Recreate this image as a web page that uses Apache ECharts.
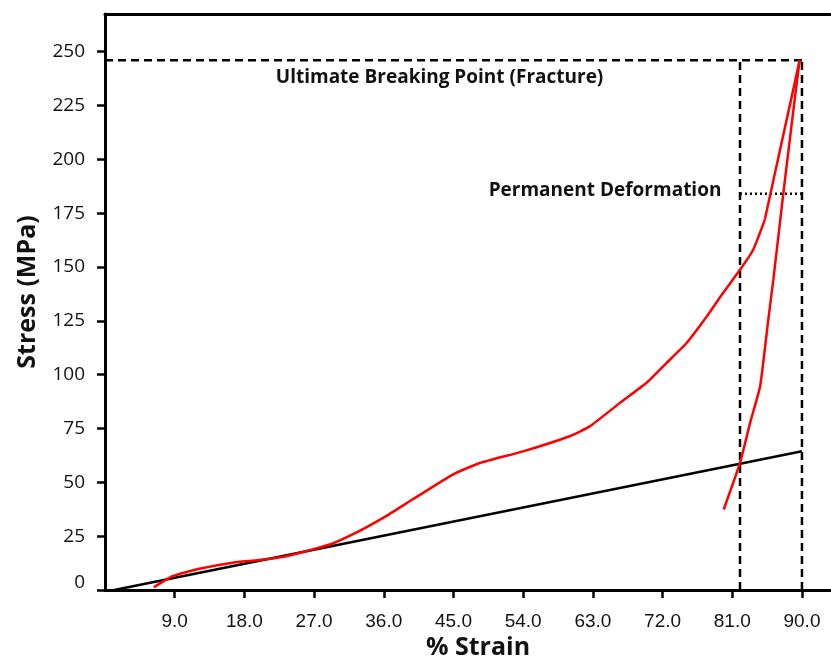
<!DOCTYPE html>
<html>
<head>
<meta charset="utf-8">
<script src="https://cdn.jsdelivr.net/npm/echarts@6/dist/echarts.min.js"></script>
<style>
  html, body { margin: 0; padding: 0; background: #fff; }
  #chart { width: 831px; height: 658px; }
</style>
</head>
<body>
<div id="chart"></div>
<script>
// Axis ticks
const strainTicks = [9, 18, 27, 36, 45, 54, 63, 72, 81, 90];
const stressTicks = [0, 25, 50, 75, 100, 125, 150, 175, 200, 225, 250];

// Loading branch of the stress–strain curve (% strain, MPa)
const loadStrain = [6.3, 8.7, 12.2, 16.5, 19.9, 23.4, 26.8, 29.4, 32.8, 36.3, 39.7, 44.9, 48.4,
  54.0, 60.0, 62.6, 66.5, 69.9, 72.5, 75.1, 77.7, 79.8, 82.0, 83.7, 85.2, 89.7];
const loadStress = [1.3, 6.4, 9.9, 12.7, 13.9, 15.7, 18.8, 21.6, 27.3, 34.3, 42.0, 53.6, 59.0,
  64.4, 71.4, 76.0, 86.9, 96.1, 105.4, 114.7, 127.0, 137.9, 148.7, 158.0, 171.9, 246];
// index where the curve turns into a straight run up to fracture
const kinkIndex = 24;

// Unloading branch after fracture
const unloadStrain = [89.7, 89.1, 87.6, 86.3, 85.6, 84.6, 83.3, 82.0, 79.9];
const unloadStress = [246, 229, 184.3, 144, 124, 94.6, 77.6, 59, 37.4];

// Straight reference (elastic) line
const elasticStrain = [1.2, 90];
const elasticStress = [0, 64.4];

// Reference levels
const fractureStress = 246;
const fractureStrain = 90;
const yieldStrain = 82;
const deformationStress = 184;

const zip = (xs, ys) => xs.map((x, i) => [x, ys[i]]);
const loadPts = zip(loadStrain, loadStress);

const chart = echarts.init(document.getElementById('chart'));

const dashStyle = { color: '#000', width: 2.5, type: [8, 5] };
const red = { color: '#ff0000', width: 2.5 };

chart.setOption({
  animation: false,
  backgroundColor: '#fff',
  grid: { left: 105, right: 0, top: 14, bottom: 68, outerBoundsMode: 'none' },
  xAxis: [{
    type: 'value', min: 0, max: 93.75,
    axisLine: { show: true, onZero: false, lineStyle: { color: '#000', width: 3 } },
    axisTick: { show: true, length: 8, lineStyle: { color: '#000', width: 2.5 }, customValues: strainTicks },
    axisLabel: {
      margin: 22, customValues: strainTicks, formatter: v => v.toFixed(1),
      fontFamily: 'Liberation Sans', fontSize: 19, color: '#111'
    },
    splitLine: { show: false }
  }, {
    type: 'value', min: 0, max: 93.75, position: 'top',
    axisLine: { show: true, onZero: false, lineStyle: { color: '#000', width: 3 } },
    axisTick: { show: false }, axisLabel: { show: false }, splitLine: { show: false }
  }],
  yAxis: {
    type: 'value', min: 0, max: 267.5,
    axisLine: { show: true, onZero: false, lineStyle: { color: '#000', width: 3 } },
    axisTick: { show: true, length: 8, lineStyle: { color: '#000', width: 2.5 }, customValues: stressTicks },
    axisLabel: {
      margin: 20, customValues: stressTicks,
      fontFamily: 'Open Sans', fontSize: 19, color: '#111',
      // the zero label sits slightly above the x axis line
      formatter: v => v === 0 ? '{z|0}' : String(v),
      rich: { z: { fontFamily: 'Open Sans', fontSize: 19, color: '#111', padding: [0, 0, 14, 0] } }
    },
    splitLine: { show: false }
  },
  series: [
    {
      type: 'line', name: 'fracture level', symbol: 'none', silent: true,
      data: [[0, fractureStress], [fractureStrain, fractureStress]],
      lineStyle: dashStyle
    },
    {
      type: 'line', name: 'yield strain', symbol: 'none', silent: true,
      data: [[yieldStrain, 0], [yieldStrain, fractureStress]],
      lineStyle: dashStyle
    },
    {
      type: 'line', name: 'fracture strain', symbol: 'none', silent: true,
      data: [[fractureStrain, 0], [fractureStrain, fractureStress + 1]],
      lineStyle: dashStyle
    },
    {
      type: 'line', name: 'deformation', symbol: 'none', silent: true,
      data: [[yieldStrain, deformationStress], [fractureStrain, deformationStress]],
      lineStyle: { color: '#000', width: 2.5, type: [2, 3] }
    },
    {
      type: 'line', name: 'elastic', symbol: 'none', silent: true,
      data: zip(elasticStrain, elasticStress),
      lineStyle: { color: '#000', width: 2.5 }
    },
    {
      type: 'line', name: 'loading', symbol: 'none', smooth: 0.15,
      data: loadPts.slice(0, kinkIndex + 1),
      lineStyle: red
    },
    {
      type: 'line', name: 'loading to fracture', symbol: 'none',
      data: loadPts.slice(kinkIndex),
      lineStyle: red
    },
    {
      type: 'line', name: 'unloading', symbol: 'none', smooth: 0.15,
      data: zip(unloadStrain, unloadStress),
      lineStyle: red
    }
  ]
});

// Annotations anchored to data coordinates
const ultPos = chart.convertToPixel({ gridIndex: 0 }, [43.2, 237.8]);
const defPos = chart.convertToPixel({ gridIndex: 0 }, [79.6, 185.5]);

chart.setOption({
  graphic: [
    {
      type: 'text', x: ultPos[0], y: ultPos[1],
      style: { text: 'Ultimate Breaking Point (Fracture)', font: 'bold 19px "Open Sans"', fill: '#111',
        textAlign: 'center', textVerticalAlign: 'middle' }
    },
    {
      type: 'text', x: defPos[0], y: defPos[1],
      style: { text: 'Permanent Deformation', font: 'bold 19px "Open Sans"', fill: '#111',
        textAlign: 'right', textVerticalAlign: 'middle' }
    },
    {
      type: 'text', x: 478, y: 648,
      style: { text: '% Strain', font: 'bold 25px "Open Sans"', fill: '#111',
        textAlign: 'center', textVerticalAlign: 'middle' }
    },
    {
      type: 'text', x: 28, y: 292, rotation: Math.PI / 2,
      style: { text: 'Stress (MPa)', font: 'bold 25px "Open Sans"', fill: '#111',
        textAlign: 'center', textVerticalAlign: 'middle' }
    }
  ]
});
</script>
</body>
</html>
